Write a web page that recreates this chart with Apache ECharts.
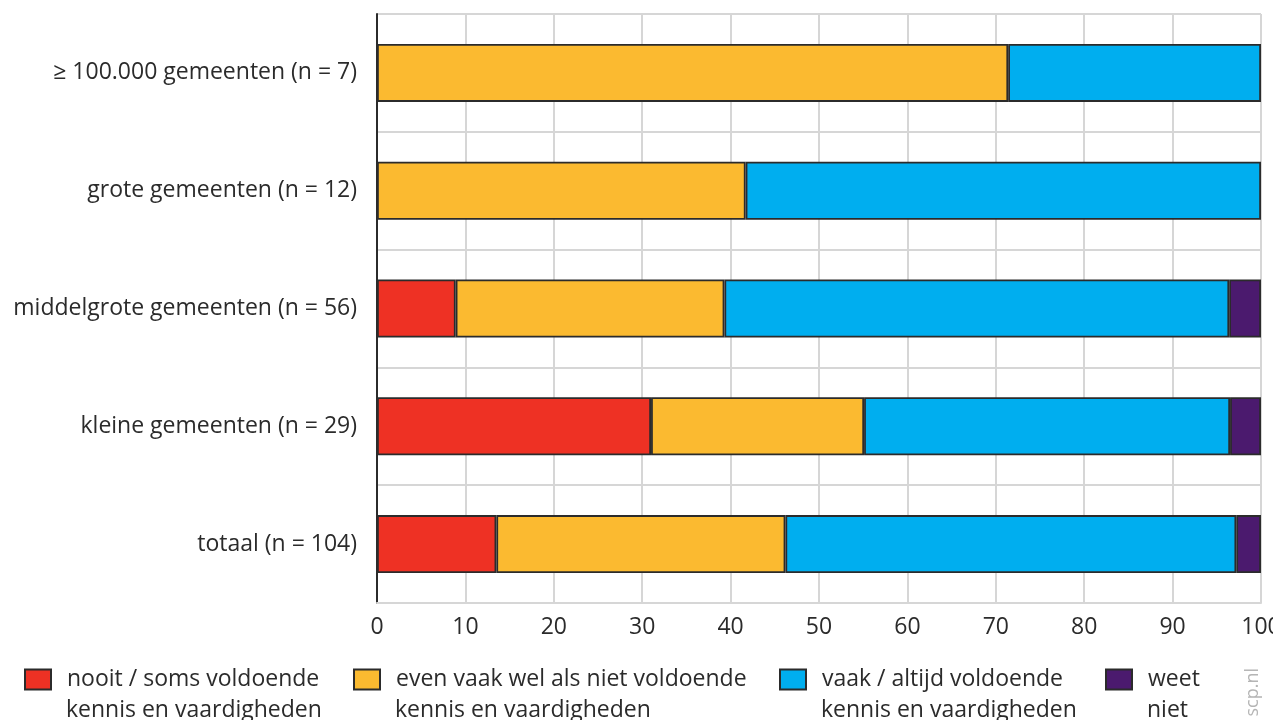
<!DOCTYPE html>
<html>
<head>
<meta charset="utf-8">
<script src="https://cdn.jsdelivr.net/npm/echarts@6/dist/echarts.min.js"></script>
<style>
html,body{margin:0;padding:0;background:#fff;}
#chart{width:1273px;height:720px;}
</style>
</head>
<body>
<div id="chart"></div>
<script>
var categories = [
  '≥ 100.000 gemeenten (n = 7)',
  'grote gemeenten (n = 12)',
  'middelgrote gemeenten (n = 56)',
  'kleine gemeenten (n = 29)',
  'totaal (n = 104)'
];
var seriesNames = [
  'nooit / soms voldoende\nkennis en vaardigheden',
  'even vaak wel als niet voldoende\nkennis en vaardigheden',
  'vaak / altijd voldoende\nkennis en vaardigheden',
  'weet\nniet'
];
var nooit = [0, 0, 8.9, 31.0, 13.5];
var evenVaak = [71.4, 41.7, 30.4, 24.1, 32.7];
var vaak = [28.6, 58.3, 57.1, 41.4, 51.0];
var weetNiet = [0, 0, 3.6, 3.5, 2.8];
var xTicks = [0, 10, 20, 30, 40, 50, 60, 70, 80, 90, 100];

var colors = ['#EE3124', '#FBBA30', '#00AEEF', '#4B1A6E'];
var valuesList = [nooit, evenVaak, vaak, weetNiet];
var FONT = '"Open Sans", sans-serif';
var TXT = '#2b2b2b';
var FS = 23;

var series = valuesList.map(function (vals, i) {
  return {
    name: seriesNames[i],
    type: 'bar',
    stack: 'total',
    barWidth: 58,
    data: vals.map(function (v) { return v === 0 ? '-' : v; }),
    itemStyle: { color: colors[i], borderColor: '#2b2b2b', borderWidth: 1.8 },
    emphasis: { disabled: true }
  };
});

var legendLefts = [24, 353, 779, 1105];
var ICON_W = 26, ICON_H = 20, LEG_TOP = 668, TXT_PAD = 11;
var legends = seriesNames.map(function (n, i) {
  return {
    data: [n],
    left: legendLefts[i],
    top: LEG_TOP,
    padding: 0,
    orient: 'horizontal',
    itemWidth: ICON_W,
    itemHeight: ICON_H,
    icon: 'rect',
    selectedMode: false,
    formatter: function (name) { return name.split('\n')[0]; },
    textStyle: { fontFamily: FONT, fontSize: FS, color: TXT, padding: [0, 0, 0, TXT_PAD] }
  };
});

var graphics = seriesNames.map(function (n, i) {
  return {
    type: 'text',
    x: legendLefts[i] + ICON_W + 5 + TXT_PAD,
    y: LEG_TOP + ICON_H / 2 + 32,
    style: {
      text: n.split('\n')[1],
      fontFamily: FONT, fontSize: FS, fill: TXT,
      textAlign: 'left', textVerticalAlign: 'middle', verticalAlign: 'middle'
    }
  };
});
graphics.push({
  type: 'text',
  left: 1244,
  top: 668,
  rotation: Math.PI / 2,
  style: { text: 'scp.nl', fontFamily: FONT, fontSize: 18, fill: '#b5b5b5' }
});

var chart = echarts.init(document.getElementById('chart'), null, { renderer: 'canvas' });
chart.setOption({
  animation: false,
  backgroundColor: '#fff',
  grid: { left: 377, right: 12, top: 14, bottom: 117, containLabel: false, outerBoundsMode: 'none' },
  xAxis: {
    type: 'value',
    min: xTicks[0],
    max: xTicks[xTicks.length - 1],
    interval: 10,
    axisLine: { show: true, lineStyle: { color: '#d6d6d6', width: 2 } },
    axisTick: { show: false },
    splitLine: { show: true, lineStyle: { color: '#d6d6d6', width: 2 } },
    axisLabel: { fontFamily: FONT, fontSize: FS, color: TXT, margin: 13 }
  },
  yAxis: {
    type: 'category',
    inverse: true,
    data: categories,
    axisLine: { show: true, lineStyle: { color: '#2b2b2b', width: 2 } },
    axisTick: { show: false },
    splitLine: { show: true, lineStyle: { color: '#d6d6d6', width: 2 } },
    axisLabel: { fontFamily: FONT, fontSize: FS, color: TXT, margin: 20 }
  },
  legend: legends,
  series: series,
  graphic: graphics
});
</script>
</body>
</html>
